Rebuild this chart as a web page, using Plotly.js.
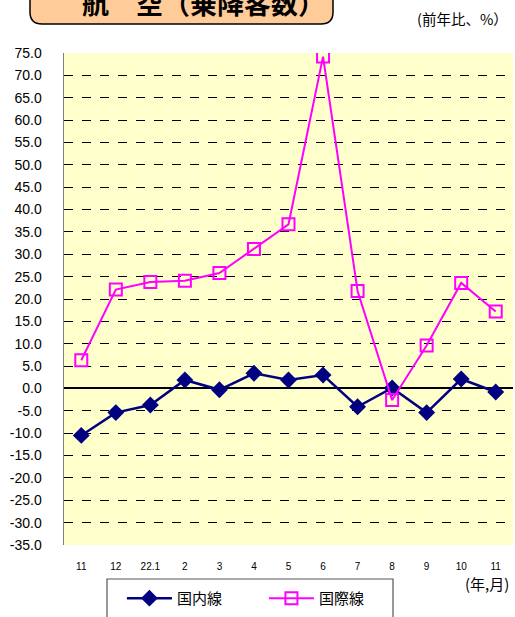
<!DOCTYPE html>
<html><head><meta charset="utf-8">
<script src="https://cdn.plot.ly/plotly-3.0.1.min.js"></script>
<style>body{margin:0;padding:0;background:#fff}#chart{width:515px;height:617px}</style>
</head><body><div id="chart"></div>
<script>
const categories = ['11','12','22.1','2','3','4','5','6','7','8','9','10','11 '];
const tickLabels = ['11','12','22.1','2','3','4','5','6','7','8','9','10','11'];
const domestic = [-10.5,-5.4,-3.7,1.9,-0.3,3.4,1.9,3.0,-4.1,0.1,-5.4,2.1,-0.8];
const international = [6.3,22.1,23.8,24.1,25.8,31.2,36.7,74.2,21.8,-2.6,9.6,23.6,17.2];
const yTicks = [75,70,65,60,55,50,45,40,35,30,25,20,15,10,5,0,-5,-10,-15,-20,-25,-30,-35];
const yTickText = yTicks.map(v => v.toFixed(1));

const jp = '"Noto Sans CJK JP", sans-serif';
const lat = '"Liberation Sans", Arial, sans-serif';

const traces = [
  {x: categories, y: domestic, name: '国内線', type: 'scatter', mode: 'lines+markers',
   line: {color: '#000080', width: 2.5},
   marker: {symbol: 'diamond', size: 13, color: '#000080'}},
  {x: categories, y: international, name: '国際線', type: 'scatter', mode: 'lines+markers',
   line: {color: '#FF00FF', width: 2},
   marker: {symbol: 'square-open', size: 12, color: '#FF00FF', line: {width: 2, color: '#FF00FF'}}}
];

const layout = {
  width: 515, height: 617,
  margin: {l: 64, r: 2, t: 53, b: 68},
  paper_bgcolor: '#ffffff',
  plot_bgcolor: '#FFFFCC',
  showlegend: true,
  legend: {orientation: 'h', x: 0.129, y: -0.075, xanchor: 'left', yanchor: 'top',
    borderwidth: 0, bgcolor: 'rgba(0,0,0,0)',
    font: {family: jp, size: 15, color: '#000'}, entrywidth: 82, itemwidth: 45,
    traceorder: 'normal'},
  xaxis: {type: 'category', tickvals: categories, ticktext: tickLabels,
    showgrid: false, zeroline: false, showline: false, ticks: '',
    tickfont: {family: lat, size: 10, color: '#000'}, ticklabelstandoff: 14,
    range: [-0.5, 12.5], fixedrange: true},
  yaxis: {range: [-35, 75], tickvals: yTicks, ticktext: yTickText,
    showgrid: true, gridcolor: '#000000', griddash: 'dash', gridwidth: 1,
    zeroline: true, zerolinecolor: '#000000', zerolinewidth: 2,
    showline: true, linecolor: '#808080', linewidth: 1.5,
    ticks: '', ticklabelstandoff: 18,
    tickfont: {family: lat, size: 14, color: '#000'}, fixedrange: true},
  shapes: [
    {type: 'path', xref: 'paper', yref: 'paper',
     path: 'M -34 70 L -34 41 Q -34 29 -22 29 L 257 29 Q 269 29 269 41 L 269 70 Z',
     xsizemode: 'pixel', ysizemode: 'pixel', xanchor: 0, yanchor: 1,
     fillcolor: '#FFCC99', line: {color: '#000', width: 1.5}, layer: 'above'},
    {type: 'rect', xref: 'paper', yref: 'paper',
     xsizemode: 'pixel', ysizemode: 'pixel', xanchor: 0, yanchor: 0,
     x0: 107 - 64, x1: 393 - 64, y0: -(583 - 549), y1: -(625 - 549),
     fillcolor: 'rgba(0,0,0,0)', line: {color: '#555555', width: 1.2}, layer: 'above'}
  ],
  annotations: [
    {text: '<b>航　空（乗降客数）</b>', xref: 'paper', yref: 'paper', x: 0, y: 1,
     xshift: 203 - 64, yshift: 53 - 2, showarrow: false, xanchor: 'center', yanchor: 'middle',
     font: {family: jp, size: 27, color: '#000'}},
    {text: '(前年比、%）', xref: 'paper', yref: 'paper', x: 1, y: 1,
     xshift: -3, yshift: 53 - 18, showarrow: false, xanchor: 'right', yanchor: 'middle',
     font: {family: jp, size: 14.5, color: '#000'}},
    {text: '(年,月)', xref: 'paper', yref: 'paper', x: 1, y: 0,
     xshift: -2, yshift: -38, showarrow: false, xanchor: 'right', yanchor: 'middle',
     font: {family: jp, size: 15, color: '#000'}}
  ]
};

Plotly.newPlot('chart', traces, layout, {displayModeBar: false, staticPlot: true});
</script></body></html>
